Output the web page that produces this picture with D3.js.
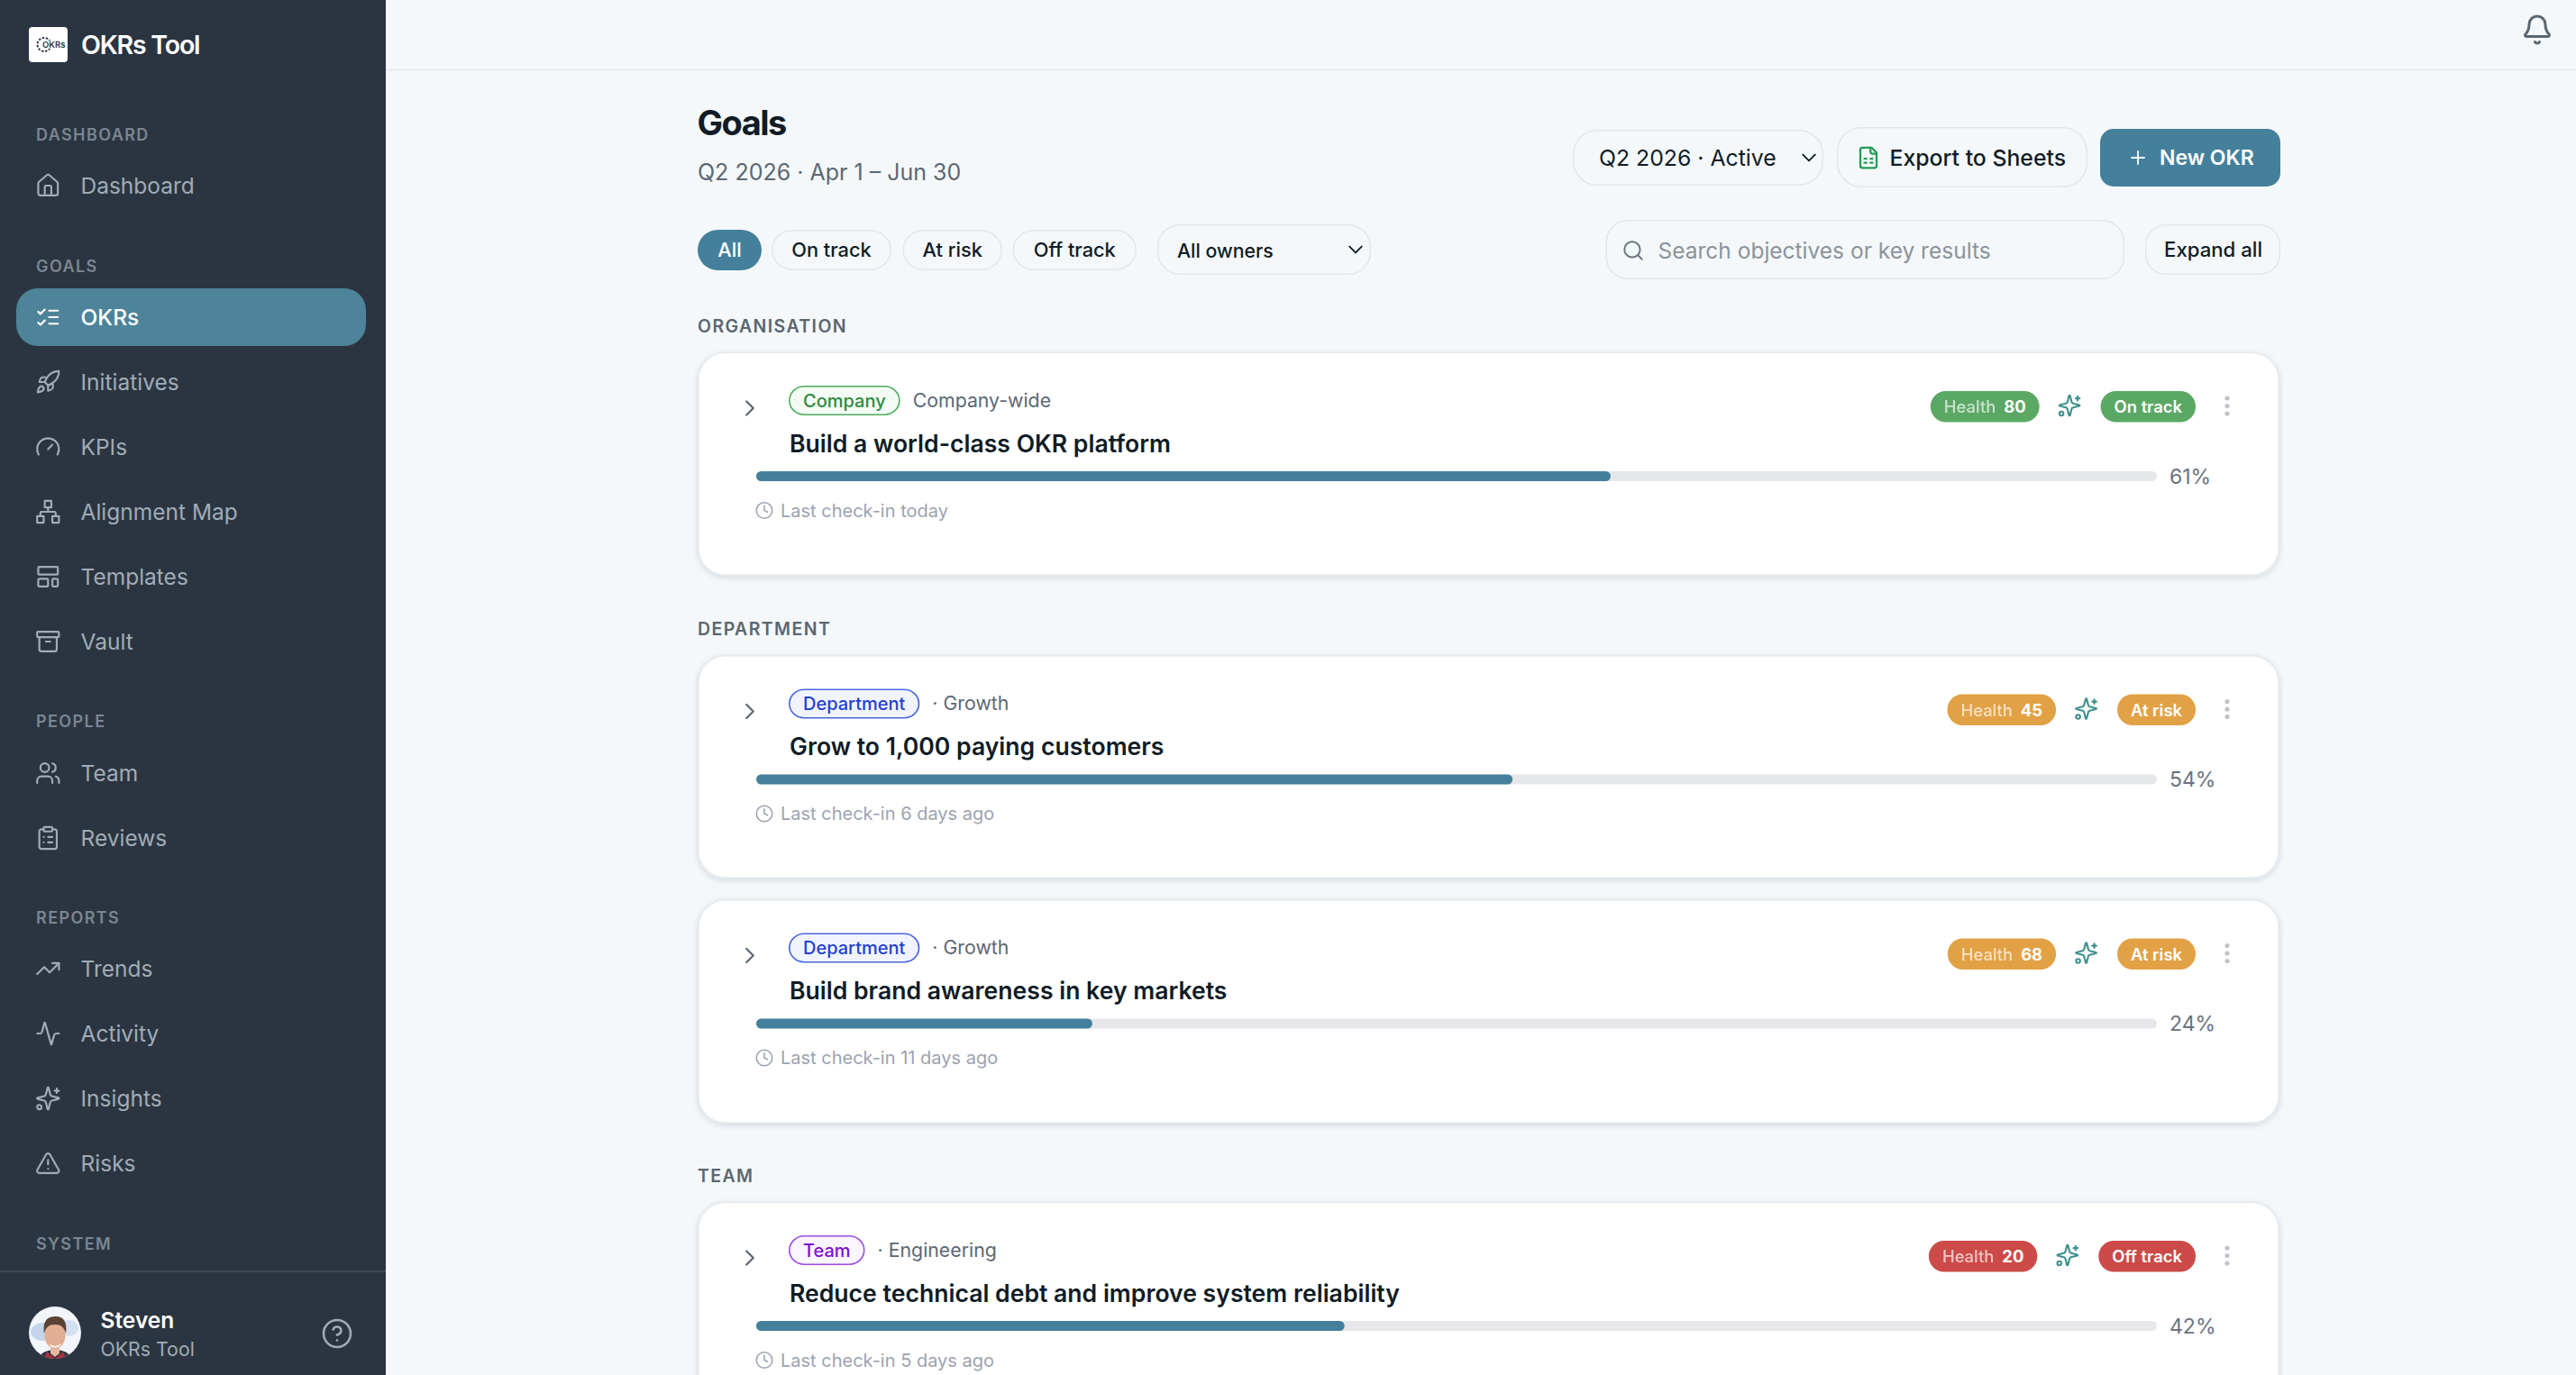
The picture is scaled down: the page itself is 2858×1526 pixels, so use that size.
<!DOCTYPE html>
<html><head><meta charset="utf-8">
<script src="https://cdn.jsdelivr.net/npm/d3@7/dist/d3.min.js"></script>
<style>html,body{margin:0;padding:0;background:#f5f8fa;overflow:hidden}svg{display:block}text{font-family:Inter,"Noto Sans",sans-serif;white-space:pre}</style>
</head><body><svg id="app" width="2858" height="1526" viewBox="0 0 2858 1526"></svg>
<script>
// ---------- data ----------
const sectionLabels = ["DASHBOARD","GOALS","PEOPLE","REPORTS","SYSTEM"];
const navLabels = ["Dashboard","OKRs","Initiatives","KPIs","Alignment Map","Templates","Vault","Team","Reviews","Trends","Activity","Insights","Risks"];
const navIcons = ["home","list","rocket","gauge","network","layout","archive","users","clipboard","trend","activity","sparkles","alert"];
const filterLabels = ["All","On track","At risk","Off track"];
const groupLabels = ["ORGANISATION","DEPARTMENT","TEAM"];
const objectiveTitles = ["Build a world-class OKR platform","Grow to 1,000 paying customers","Build brand awareness in key markets","Reduce technical debt and improve system reliability"];
const objectiveLevels = ["Company","Department","Department","Team"];
const objectiveOwners = ["Company-wide","· Growth","· Growth","· Engineering"];
const objectiveProgress = [61,54,24,42];
const objectiveHealth = [80,45,68,20];
const objectiveStatus = ["On track","At risk","At risk","Off track"];
const objectiveCheckins = ["Last check-in today","Last check-in 6 days ago","Last check-in 11 days ago","Last check-in 5 days ago"];

// ---------- palette and layout ----------
const C = {side:"#2b3541",main:"#f5f8fa",teal:"#44809b",active:"#4d8499",ink:"#101c26",sub:"#5c6873",line:"#e2e7eb",navText:"#a0acb6",secText:"#7b8691",track:"#e5e7eb",pct:"#6b7280",muted:"#9ca3af",spark:"#3f918f"};
const statusColor = {"On track":"#5ba865","At risk":"#e2a145","Off track":"#cc4a47"};
const levelStyle = {Company:{t:"#2f8a3e",f:"#f3fbf4",s:"#4fae5c"},Department:{t:"#2340d0",f:"#f1f4fe",s:"#4a66e0"},Team:{t:"#7e10d0",f:"#faf5ff",s:"#9b4de0"}};
const sectionY = [149,295,800,1018,1380];
const navY = [206,352,424,496,568,640,712,858,930,1075,1147,1219,1291];
const groupY = [362,698,1305];
const cardTop = [391.5,728,999,1334.5];
const cardBottom = [639,975,1247,1581];
const CARD_L = 775, CARD_R = 2529;

const ICONS = {
 home:["M15 21v-8a1 1 0 0 0-1-1h-4a1 1 0 0 0-1 1v8","M3 10a2 2 0 0 1 .709-1.528l7-5.999a2 2 0 0 1 2.582 0l7 5.999A2 2 0 0 1 21 10v9a2 2 0 0 1-2 2H5a2 2 0 0 1-2-2z"],
 list:["m3 17 2 2 4-4","m3 7 2 2 4-4","M13 6h8","M13 12h8","M13 18h8"],
 rocket:["M4.5 16.5c-1.5 1.26-2 5-2 5s3.74-.5 5-2c.71-.84.7-2.13-.09-2.91a2.18 2.18 0 0 0-2.91-.09z","m12 15-3-3a22 22 0 0 1 2-3.95A12.88 12.88 0 0 1 22 2c0 2.72-.78 7.5-6 11a22.35 22.35 0 0 1-4 2z","M9 12H4s.55-3.03 2-4c1.62-1.08 5 0 5 0","M12 15v5s3.03-.55 4-2c1.08-1.62 0-5 0-5"],
 gauge:["m12 14 4-4","M3.34 19a10 10 0 1 1 17.32 0"],
 network:["M16 16h6v6h-6z","M2 16h6v6H2z","M9 2h6v6H9z","M5 16v-3a1 1 0 0 1 1-1h12a1 1 0 0 1 1 1v3","M12 12V8"],
 layout:["M4 3h16a1 1 0 0 1 1 1v5a1 1 0 0 1-1 1H4a1 1 0 0 1-1-1V4a1 1 0 0 1 1-1z","M4 14h7a1 1 0 0 1 1 1v5a1 1 0 0 1-1 1H4a1 1 0 0 1-1-1v-5a1 1 0 0 1 1-1z","M17 14h3a1 1 0 0 1 1 1v5a1 1 0 0 1-1 1h-3a1 1 0 0 1-1-1v-5a1 1 0 0 1 1-1z"],
 archive:["M3 3h18a1 1 0 0 1 1 1v3a1 1 0 0 1-1 1H3a1 1 0 0 1-1-1V4a1 1 0 0 1 1-1z","M4 8v11a2 2 0 0 0 2 2h12a2 2 0 0 0 2-2V8","M10 12h4"],
 users:["M16 21v-2a4 4 0 0 0-4-4H6a4 4 0 0 0-4 4v2","M13 7a4 4 0 1 1-8 0a4 4 0 1 1 8 0","M22 21v-2a4 4 0 0 0-3-3.87","M16 3.13a4 4 0 0 1 0 7.75"],
 clipboard:["M9 2h6a1 1 0 0 1 1 1v2a1 1 0 0 1-1 1H9a1 1 0 0 1-1-1V3a1 1 0 0 1 1-1z","M16 4h2a2 2 0 0 1 2 2v14a2 2 0 0 1-2 2H6a2 2 0 0 1-2-2V6a2 2 0 0 1 2-2h2","M12 11h4","M12 16h4","M8 11h.01","M8 16h.01"],
 trend:["M22 7 13.5 15.5 8.5 10.5 2 17","M16 7h6v6"],
 activity:["M22 12h-2.48a2 2 0 0 0-1.93 1.46l-2.35 8.36a.25.25 0 0 1-.48 0L9.24 2.18a.25.25 0 0 0-.48 0l-2.35 8.36A2 2 0 0 1 4.49 12H2"],
 sparkles:["M9.937 15.5A2 2 0 0 0 8.5 14.063l-6.135-1.582a.5.5 0 0 1 0-.962L8.5 9.936A2 2 0 0 0 9.937 8.5l1.582-6.135a.5.5 0 0 1 .963 0L14.063 8.5A2 2 0 0 0 15.5 9.937l6.135 1.581a.5.5 0 0 1 0 .964L15.5 14.063a2 2 0 0 0-1.437 1.437l-1.582 6.135a.5.5 0 0 1-.963 0z","M20 3v4","M22 5h-4","M6 20a2 2 0 1 1-4 0a2 2 0 1 1 4 0"],
 alert:["m21.73 18-8-14a2 2 0 0 0-3.48 0l-8 14A2 2 0 0 0 4 21h16a2 2 0 0 0 1.73-3","M12 9v4","M12 17h.01"],
 help:["M22 12a10 10 0 1 1-20 0a10 10 0 1 1 20 0","M9.09 9a3 3 0 0 1 5.83 1c0 2-3 3-3 3","M12 17h.01"],
 bell:["M10.268 21a2 2 0 0 0 3.464 0","M3.262 15.326A1 1 0 0 0 4 17h16a1 1 0 0 0 .74-1.673C19.41 13.956 18 12.499 18 8A6 6 0 0 0 6 8c0 4.499-1.411 5.956-2.738 7.326"],
 down:["m6 9 6 6 6-6"], right:["m9 18 6-6-6-6"],
 search:["M19 11a8 8 0 1 1-16 0a8 8 0 1 1 16 0","m21 21-4.3-4.3"],
 plus:["M5 12h14","M12 5v14"],
 clock:["M22 12a10 10 0 1 1-20 0a10 10 0 1 1 20 0","M12 6v6l4 2"],
 sheet:["M15 2H6a2 2 0 0 0-2 2v16a2 2 0 0 0 2 2h12a2 2 0 0 0 2-2V7Z","M14 2v4a2 2 0 0 0 2 2h4","M8 13h2","M14 13h2","M8 17h2","M14 17h2"]
};

// ---------- helpers ----------
const svg = d3.select("#app");
const defs = svg.append("defs");
const sh = defs.append("filter").attr("id","cardShadow").attr("x","-3%").attr("y","-6%").attr("width","106%").attr("height","114%");
sh.append("feDropShadow").attr("dx",0).attr("dy",2).attr("stdDeviation",3).attr("flood-color","#1f2d3a").attr("flood-opacity",0.14);

function label(p,x,cy,str,size,weight,color,o={}){
  const t = p.append("text").attr("x",x).attr("y",cy+size*0.36).text(str)
    .attr("font-size",size).attr("font-weight",weight).attr("fill",color);
  if(o.ls!==undefined) t.attr("letter-spacing",o.ls);
  if(o.anchor) t.attr("text-anchor",o.anchor);
  if(o.opacity!==undefined) t.attr("opacity",o.opacity);
  return t;
}
function icon(p,name,cx,cy,size,color,sw=2){
  const k=size/24;
  const g=p.append("g").attr("transform",`translate(${cx-size/2},${cy-size/2}) scale(${k})`)
    .attr("fill","none").attr("stroke",color).attr("stroke-width",sw).attr("stroke-linecap","round").attr("stroke-linejoin","round");
  g.selectAll("path").data(ICONS[name]).join("path").attr("d",d=>d);
  return g;
}
function box(p,x0,y0,x1,y1,r,fill,stroke,sw=1.5){
  return p.append("rect").attr("x",x0+(stroke?sw/2:0)).attr("y",y0+(stroke?sw/2:0))
    .attr("width",x1-x0-(stroke?sw:0)).attr("height",y1-y0-(stroke?sw:0)).attr("rx",r)
    .attr("fill",fill).attr("stroke",stroke||"none").attr("stroke-width",stroke?sw:0);
}

// ---------- frame ----------
svg.append("rect").attr("width",2858).attr("height",1526).attr("fill",C.main);
svg.append("line").attr("x1",428).attr("x2",2858).attr("y1",77.5).attr("y2",77.5).attr("stroke",C.line).attr("stroke-width",1.5);
icon(svg,"bell",2815,33,36,"#5b6670",2);

// ---------- sidebar ----------
const side = svg.append("g");
side.append("rect").attr("width",428).attr("height",1526).attr("fill",C.side);
box(side,32,30,75,69,4,"#fff");
side.append("circle").attr("cx",49).attr("cy",49.5).attr("r",7.5).attr("fill","none").attr("stroke","#333c47").attr("stroke-width",2).attr("stroke-dasharray","2.5 1.6");
label(side,47,49.5,"OKRs",9.5,600,"#2b3541").attr("paint-order","stroke").attr("stroke","#fff").attr("stroke-width",1.5);
label(side,90,50,"OKRs Tool",28.5,600,"#ffffff",{ls:-1.2});

side.selectAll(null).data(sectionLabels).join("text")
  .attr("x",40).attr("y",(d,i)=>sectionY[i]+6.5).text(d=>d)
  .attr("font-size",18).attr("font-weight",600).attr("letter-spacing",1.4).attr("fill",C.secText);

box(side,18,320,406,384,24,C.active);
navLabels.forEach((d,i)=>{
  const on = d==="OKRs";
  const col = on?"#ffffff":C.navText;
  icon(side,navIcons[i],53.3,navY[i],29,col,1.8);
  label(side,89.5,navY[i],d,24.5,on?500:400,col);
});
side.append("line").attr("x1",0).attr("x2",428).attr("y1",1411).attr("y2",1411).attr("stroke","#46505b").attr("stroke-width",1.5);
// avatar
const clip = defs.append("clipPath").attr("id","av"); clip.append("circle").attr("cx",61).attr("cy",1479).attr("r",29);
const av = side.append("g").attr("clip-path","url(#av)");
av.append("rect").attr("x",32).attr("y",1450).attr("width",58).attr("height",58).attr("fill","#f2f5fa");
av.append("ellipse").attr("cx",48).attr("cy",1478).attr("rx",14).attr("ry",10).attr("fill","#c3d4ec");
av.append("ellipse").attr("cx",76).attr("cy",1474).attr("rx",11).attr("ry",9).attr("fill","#d3e0f2");
av.append("ellipse").attr("cx",61).attr("cy",1512).attr("rx",20).attr("ry",14).attr("fill","#33303e");
av.append("path").attr("d","M52 1500 L61 1508 L70 1500 L74 1510 L48 1510Z").attr("fill","#a8323f");
av.append("path").attr("d","M56 1496h10v6l-5 4-5-4z").attr("fill","#e6b9a3");
av.append("ellipse").attr("cx",61).attr("cy",1482).attr("rx",11.5).attr("ry",15).attr("fill","#e3ad92");
av.append("path").attr("d","M49 1480 C47 1464 54 1461 62 1461 C71 1461 75 1468 73 1480 C71 1473 68 1470 61 1470 C54 1470 51 1473 49 1480Z").attr("fill","#5a4334");
av.append("path").attr("d","M54 1491 Q61 1497 68 1491 L66 1494 Q61 1497 56 1494Z").attr("fill","#fff");
label(side,111.5,1465,"Steven",24.5,600,"#ffffff");
label(side,111.5,1497,"OKRs Tool",21.3,400,C.navText);
icon(side,"help",374,1480,36,C.navText,1.7);

// ---------- header ----------
const main = svg.append("g");
label(main,773.5,136,"Goals",38,700,C.ink,{ls:-1.5});
label(main,774,190.5,"Q2 2026 · Apr 1 – Jun 30",25,400,C.sub);

box(main,1745,144,2023,206,26,"none",C.line);
label(main,1774,175,"Q2 2026 · Active",24.8,400,C.ink);
icon(main,"down",2007,175,27,C.ink,1.7);
box(main,2038,141,2316,208,26,"none",C.line);
icon(main,"sheet",2073,175,27,"#1f9d55",2);
label(main,2096.5,175,"Export to Sheets",24.8,500,C.ink);
box(main,2330,143,2530,207,15,C.teal);
icon(main,"plus",2372,175,24,"#fff",1.8);
label(main,2396,175,"New OKR",23,600,"#fff");

// filters
const filterEdges = [[774,845],[856,989],[1001.5,1112],[1123.5,1261]];
filterLabels.forEach((d,i)=>{
  const [a,b]=filterEdges[i], on=i===0;
  box(main,a,255,b,300,22.5,on?C.teal:"none",on?null:C.line);
  label(main,(a+b)/2,277,d,21.8,500,on?"#fff":C.ink,{anchor:"middle"});
});
box(main,1284,249,1521,305,24,"none",C.line);
label(main,1306,278,"All owners",21.3,500,C.ink);
icon(main,"down",1504,277,27,C.ink,1.7);

box(main,1781.5,244,2357,310,24,"none",C.line);
icon(main,"search",1812,278,26,"#6b7580",1.8);
label(main,1839.5,278,"Search objectives or key results",24.5,400,"#8a939b");
box(main,2380,249,2530,305,22,"none",C.line);
label(main,2401,277,"Expand all",22.2,500,C.ink);

main.selectAll(null).data(groupLabels).join("text")
  .attr("x",774).attr("y",(d,i)=>groupY[i]+7).text(d=>d)
  .attr("font-size",19.5).attr("font-weight",600).attr("letter-spacing",1.4).attr("fill","#5a6670");

// ---------- objective cards ----------
const xProgress = d3.scaleLinear().domain([0,100]).range([839,2393]);
const STATUS_R = 2436, PAD = 15;
objectiveTitles.forEach((title,i)=>{
  const top = cardTop[i], g = main.append("g");
  box(g,CARD_L-1,top-1,CARD_R,cardBottom[i],30,"#fff","#e3e8ec").attr("filter","url(#cardShadow)");
  icon(g,"right",832,top+61.5,30,C.sub,1.8);

  // level badge
  const st = levelStyle[objectiveLevels[i]];
  const bg = box(g,875,top+36.5,1000,top+69.5,16.5,st.f,st.s,1.6);
  const bt = label(g,891,top+53,objectiveLevels[i],20,500,st.t);
  const bw = bt.node().getComputedTextLength();
  bg.attr("width",bw+32-1.6);
  label(g,875+bw+32+14,top+52.5,objectiveOwners[i],21.3,400,C.sub);

  label(g,876,top+100.5,title,26.6,600,C.ink);

  // progress
  g.append("rect").attr("x",xProgress(0)).attr("y",top+131.5).attr("width",xProgress(100)-xProgress(0)).attr("height",11).attr("rx",5.5).attr("fill",C.track);
  g.append("rect").attr("x",xProgress(0)).attr("y",top+131.5).attr("width",xProgress(objectiveProgress[i])-xProgress(0)).attr("height",11).attr("rx",5.5).attr("fill",C.teal);
  label(g,2407,top+137,objectiveProgress[i]+"%",23,400,C.pct);

  icon(g,"clock",848,top+175,21,C.muted,1.8);
  label(g,866,top+175,objectiveCheckins[i],20,400,C.muted);

  // status, sparkle, health, menu
  const col = statusColor[objectiveStatus[i]];
  const py0 = top+42.5, py1 = top+77, pc = top+60;
  const sPill = box(g,STATUS_R-100,py0,STATUS_R,py1,17,col);
  const sText = label(g,STATUS_R-PAD,pc,objectiveStatus[i],18.4,600,"#fff",{anchor:"end"});
  const sw = sText.node().getComputedTextLength()+2*PAD;
  sPill.attr("x",STATUS_R-sw).attr("width",sw);
  const sparkCx = STATUS_R-sw-23-11.5;
  icon(g,"sparkles",sparkCx,pc-1.5,27,C.spark,1.9);
  const hR = sparkCx-11.5-22;
  const hPill = box(g,hR-100,py0,hR,py1,17,col);
  const hNum = label(g,hR-PAD,pc,String(objectiveHealth[i]),18.4,700,"#fff",{anchor:"end"});
  const nw = hNum.node().getComputedTextLength();
  const hWord = label(g,hR-PAD-nw-9,pc,"Health",18.4,500,"#fff",{anchor:"end",opacity:0.68});
  const hw = hWord.node().getComputedTextLength()+nw+9+2*PAD;
  hPill.attr("x",hR-hw).attr("width",hw);
  g.selectAll(null).data([-8.5,0,8.5]).join("circle").attr("cx",2471).attr("cy",d=>pc-1+d).attr("r",2.6).attr("fill","#c0c4c9");
});
</script></body></html>
